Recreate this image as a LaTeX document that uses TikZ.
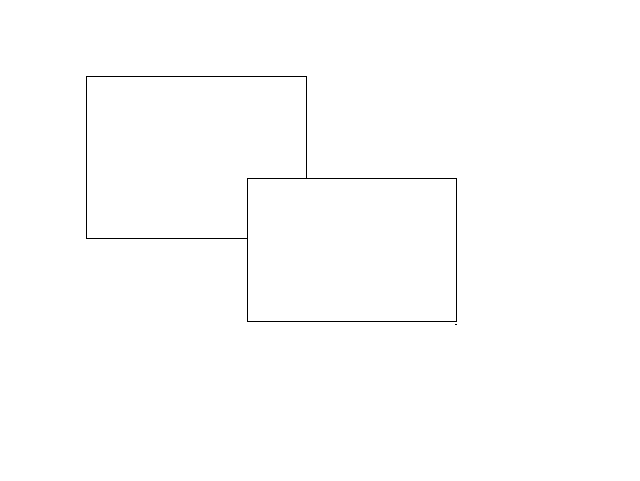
\documentclass[tikz,border=0pt]{standalone}
\begin{document}
\begin{tikzpicture}[x=1pt,y=-1pt,
  box/.style={draw=black,fill=white,line width=1pt,rectangle,inner sep=0pt,anchor=north west}]
\useasboundingbox[fill=white] (0,0) rectangle (640,480);
\node[box,minimum width=220pt,minimum height=162pt] (a) at (86,76) {};
\node[box,minimum width=209pt,minimum height=143pt] (b) at (247,178) {};
\coordinate (m) at (456,324);
\draw[line width=1pt] ([xshift=-1pt]m) -- ([xshift=1pt]m);
\end{tikzpicture}
\end{document}
